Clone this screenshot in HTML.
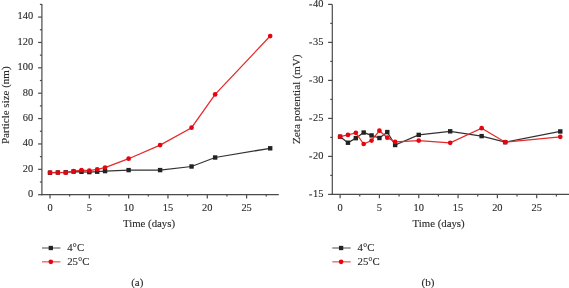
<!DOCTYPE html>
<html><head><meta charset="utf-8"><style>
html,body{margin:0;padding:0;background:#fff;}
svg{display:block;}
svg text{font-family:"Liberation Serif", serif;fill:#2a2a2a;stroke:#2a2a2a;stroke-width:0.12px;}
svg{will-change:transform;}
</style></head><body>
<svg width="569" height="288" viewBox="0 0 569 288">
<line x1="41.90" y1="3.90" x2="41.90" y2="195.20" stroke="#4a4a4a" stroke-width="1.2"/>
<line x1="41.30" y1="194.60" x2="278.80" y2="194.60" stroke="#4a4a4a" stroke-width="1.2"/>
<line x1="38.10" y1="194.70" x2="41.90" y2="194.70" stroke="#4a4a4a" stroke-width="1.2"/>
<text x="33.20" y="197.00" font-size="10.4" text-anchor="end" >0</text>
<line x1="39.90" y1="182.01" x2="41.90" y2="182.01" stroke="#4a4a4a" stroke-width="1.2"/>
<line x1="38.10" y1="169.33" x2="41.90" y2="169.33" stroke="#4a4a4a" stroke-width="1.2"/>
<text x="33.20" y="171.63" font-size="10.4" text-anchor="end" >20</text>
<line x1="39.90" y1="156.64" x2="41.90" y2="156.64" stroke="#4a4a4a" stroke-width="1.2"/>
<line x1="38.10" y1="143.95" x2="41.90" y2="143.95" stroke="#4a4a4a" stroke-width="1.2"/>
<text x="33.20" y="146.25" font-size="10.4" text-anchor="end" >40</text>
<line x1="39.90" y1="131.26" x2="41.90" y2="131.26" stroke="#4a4a4a" stroke-width="1.2"/>
<line x1="38.10" y1="118.58" x2="41.90" y2="118.58" stroke="#4a4a4a" stroke-width="1.2"/>
<text x="33.20" y="120.88" font-size="10.4" text-anchor="end" >60</text>
<line x1="39.90" y1="105.89" x2="41.90" y2="105.89" stroke="#4a4a4a" stroke-width="1.2"/>
<line x1="38.10" y1="93.20" x2="41.90" y2="93.20" stroke="#4a4a4a" stroke-width="1.2"/>
<text x="33.20" y="95.50" font-size="10.4" text-anchor="end" >80</text>
<line x1="39.90" y1="80.52" x2="41.90" y2="80.52" stroke="#4a4a4a" stroke-width="1.2"/>
<line x1="38.10" y1="67.83" x2="41.90" y2="67.83" stroke="#4a4a4a" stroke-width="1.2"/>
<text x="33.20" y="70.13" font-size="10.4" text-anchor="end" >100</text>
<line x1="39.90" y1="55.14" x2="41.90" y2="55.14" stroke="#4a4a4a" stroke-width="1.2"/>
<line x1="38.10" y1="42.46" x2="41.90" y2="42.46" stroke="#4a4a4a" stroke-width="1.2"/>
<text x="33.20" y="44.76" font-size="10.4" text-anchor="end" >120</text>
<line x1="39.90" y1="29.77" x2="41.90" y2="29.77" stroke="#4a4a4a" stroke-width="1.2"/>
<line x1="38.10" y1="17.08" x2="41.90" y2="17.08" stroke="#4a4a4a" stroke-width="1.2"/>
<text x="33.20" y="19.38" font-size="10.4" text-anchor="end" >140</text>
<line x1="39.90" y1="4.40" x2="41.90" y2="4.40" stroke="#4a4a4a" stroke-width="1.2"/>
<line x1="50.00" y1="194.60" x2="50.00" y2="198.40" stroke="#4a4a4a" stroke-width="1.2"/>
<text x="50.00" y="210.80" font-size="10.4" text-anchor="middle" >0</text>
<line x1="69.66" y1="194.60" x2="69.66" y2="196.60" stroke="#4a4a4a" stroke-width="1.2"/>
<line x1="89.32" y1="194.60" x2="89.32" y2="198.40" stroke="#4a4a4a" stroke-width="1.2"/>
<text x="89.32" y="210.80" font-size="10.4" text-anchor="middle" >5</text>
<line x1="108.98" y1="194.60" x2="108.98" y2="196.60" stroke="#4a4a4a" stroke-width="1.2"/>
<line x1="128.64" y1="194.60" x2="128.64" y2="198.40" stroke="#4a4a4a" stroke-width="1.2"/>
<text x="128.64" y="210.80" font-size="10.4" text-anchor="middle" >10</text>
<line x1="148.30" y1="194.60" x2="148.30" y2="196.60" stroke="#4a4a4a" stroke-width="1.2"/>
<line x1="167.96" y1="194.60" x2="167.96" y2="198.40" stroke="#4a4a4a" stroke-width="1.2"/>
<text x="167.96" y="210.80" font-size="10.4" text-anchor="middle" >15</text>
<line x1="187.62" y1="194.60" x2="187.62" y2="196.60" stroke="#4a4a4a" stroke-width="1.2"/>
<line x1="207.28" y1="194.60" x2="207.28" y2="198.40" stroke="#4a4a4a" stroke-width="1.2"/>
<text x="207.28" y="210.80" font-size="10.4" text-anchor="middle" >20</text>
<line x1="226.94" y1="194.60" x2="226.94" y2="196.60" stroke="#4a4a4a" stroke-width="1.2"/>
<line x1="246.60" y1="194.60" x2="246.60" y2="198.40" stroke="#4a4a4a" stroke-width="1.2"/>
<text x="246.60" y="210.80" font-size="10.4" text-anchor="middle" >25</text>
<line x1="266.26" y1="194.60" x2="266.26" y2="196.60" stroke="#4a4a4a" stroke-width="1.2"/>
<text x="149.00" y="227.00" font-size="10.8" text-anchor="middle" >Time (days)</text>
<text transform="translate(8.8,105.2) rotate(-90)" font-size="11" text-anchor="middle">Particle size (nm)</text>
<polyline points="50.00,172.70 57.86,172.50 65.73,172.30 73.59,171.60 81.46,171.80 89.32,172.10 97.18,171.70 105.05,171.10 128.64,170.10 160.10,170.10 191.55,166.50 215.14,157.50 270.19,148.30" fill="none" stroke="#333333" stroke-width="1.25"/>
<rect x="47.80" y="170.50" width="4.4" height="4.4" fill="#222222"/>
<rect x="55.66" y="170.30" width="4.4" height="4.4" fill="#222222"/>
<rect x="63.53" y="170.10" width="4.4" height="4.4" fill="#222222"/>
<rect x="71.39" y="169.40" width="4.4" height="4.4" fill="#222222"/>
<rect x="79.26" y="169.60" width="4.4" height="4.4" fill="#222222"/>
<rect x="87.12" y="169.90" width="4.4" height="4.4" fill="#222222"/>
<rect x="94.98" y="169.50" width="4.4" height="4.4" fill="#222222"/>
<rect x="102.85" y="168.90" width="4.4" height="4.4" fill="#222222"/>
<rect x="126.44" y="167.90" width="4.4" height="4.4" fill="#222222"/>
<rect x="157.90" y="167.90" width="4.4" height="4.4" fill="#222222"/>
<rect x="189.35" y="164.30" width="4.4" height="4.4" fill="#222222"/>
<rect x="212.94" y="155.30" width="4.4" height="4.4" fill="#222222"/>
<rect x="267.99" y="146.10" width="4.4" height="4.4" fill="#222222"/>
<polyline points="50.00,172.70 57.86,172.50 65.73,172.70 73.59,171.10 81.46,170.20 89.32,170.60 97.18,169.30 105.05,167.60 128.64,158.70 160.10,145.10 191.55,127.70 215.14,94.40 270.19,36.04" fill="none" stroke="#e42a2a" stroke-width="1.25"/>
<circle cx="50.00" cy="172.70" r="2.35" fill="#e3050f"/>
<circle cx="57.86" cy="172.50" r="2.35" fill="#e3050f"/>
<circle cx="65.73" cy="172.70" r="2.35" fill="#e3050f"/>
<circle cx="73.59" cy="171.10" r="2.35" fill="#e3050f"/>
<circle cx="81.46" cy="170.20" r="2.35" fill="#e3050f"/>
<circle cx="89.32" cy="170.60" r="2.35" fill="#e3050f"/>
<circle cx="97.18" cy="169.30" r="2.35" fill="#e3050f"/>
<circle cx="105.05" cy="167.60" r="2.35" fill="#e3050f"/>
<circle cx="128.64" cy="158.70" r="2.35" fill="#e3050f"/>
<circle cx="160.10" cy="145.10" r="2.35" fill="#e3050f"/>
<circle cx="191.55" cy="127.70" r="2.35" fill="#e3050f"/>
<circle cx="215.14" cy="94.40" r="2.35" fill="#e3050f"/>
<circle cx="270.19" cy="36.04" r="2.35" fill="#e3050f"/>
<line x1="332.30" y1="4.40" x2="332.30" y2="195.05" stroke="#4a4a4a" stroke-width="1.2"/>
<line x1="331.70" y1="194.45" x2="569.00" y2="194.45" stroke="#4a4a4a" stroke-width="1.2"/>
<line x1="328.10" y1="4.40" x2="332.30" y2="4.40" stroke="#4a4a4a" stroke-width="1.2"/>
<text x="323.50" y="7.30" font-size="10.4" text-anchor="end" >40</text>
<line x1="309.20" y1="4.90" x2="312.10" y2="4.90" stroke="#2a2a2a" stroke-width="1.0"/>
<line x1="330.30" y1="23.40" x2="332.30" y2="23.40" stroke="#4a4a4a" stroke-width="1.2"/>
<line x1="328.10" y1="42.40" x2="332.30" y2="42.40" stroke="#4a4a4a" stroke-width="1.2"/>
<text x="323.50" y="45.30" font-size="10.4" text-anchor="end" >35</text>
<line x1="309.20" y1="42.90" x2="312.10" y2="42.90" stroke="#2a2a2a" stroke-width="1.0"/>
<line x1="330.30" y1="61.40" x2="332.30" y2="61.40" stroke="#4a4a4a" stroke-width="1.2"/>
<line x1="328.10" y1="80.40" x2="332.30" y2="80.40" stroke="#4a4a4a" stroke-width="1.2"/>
<text x="323.50" y="83.30" font-size="10.4" text-anchor="end" >30</text>
<line x1="309.20" y1="80.90" x2="312.10" y2="80.90" stroke="#2a2a2a" stroke-width="1.0"/>
<line x1="330.30" y1="99.40" x2="332.30" y2="99.40" stroke="#4a4a4a" stroke-width="1.2"/>
<line x1="328.10" y1="118.40" x2="332.30" y2="118.40" stroke="#4a4a4a" stroke-width="1.2"/>
<text x="323.50" y="121.30" font-size="10.4" text-anchor="end" >25</text>
<line x1="309.20" y1="118.90" x2="312.10" y2="118.90" stroke="#2a2a2a" stroke-width="1.0"/>
<line x1="330.30" y1="137.40" x2="332.30" y2="137.40" stroke="#4a4a4a" stroke-width="1.2"/>
<line x1="328.10" y1="156.40" x2="332.30" y2="156.40" stroke="#4a4a4a" stroke-width="1.2"/>
<text x="323.50" y="159.30" font-size="10.4" text-anchor="end" >20</text>
<line x1="309.20" y1="156.90" x2="312.10" y2="156.90" stroke="#2a2a2a" stroke-width="1.0"/>
<line x1="330.30" y1="175.40" x2="332.30" y2="175.40" stroke="#4a4a4a" stroke-width="1.2"/>
<line x1="328.10" y1="194.40" x2="332.30" y2="194.40" stroke="#4a4a4a" stroke-width="1.2"/>
<text x="323.50" y="197.30" font-size="10.4" text-anchor="end" >15</text>
<line x1="309.20" y1="194.90" x2="312.10" y2="194.90" stroke="#2a2a2a" stroke-width="1.0"/>
<line x1="340.10" y1="194.45" x2="340.10" y2="198.25" stroke="#4a4a4a" stroke-width="1.2"/>
<text x="340.10" y="210.80" font-size="10.4" text-anchor="middle" >0</text>
<line x1="359.76" y1="194.45" x2="359.76" y2="196.45" stroke="#4a4a4a" stroke-width="1.2"/>
<line x1="379.42" y1="194.45" x2="379.42" y2="198.25" stroke="#4a4a4a" stroke-width="1.2"/>
<text x="379.42" y="210.80" font-size="10.4" text-anchor="middle" >5</text>
<line x1="399.08" y1="194.45" x2="399.08" y2="196.45" stroke="#4a4a4a" stroke-width="1.2"/>
<line x1="418.74" y1="194.45" x2="418.74" y2="198.25" stroke="#4a4a4a" stroke-width="1.2"/>
<text x="418.74" y="210.80" font-size="10.4" text-anchor="middle" >10</text>
<line x1="438.40" y1="194.45" x2="438.40" y2="196.45" stroke="#4a4a4a" stroke-width="1.2"/>
<line x1="458.06" y1="194.45" x2="458.06" y2="198.25" stroke="#4a4a4a" stroke-width="1.2"/>
<text x="458.06" y="210.80" font-size="10.4" text-anchor="middle" >15</text>
<line x1="477.72" y1="194.45" x2="477.72" y2="196.45" stroke="#4a4a4a" stroke-width="1.2"/>
<line x1="497.38" y1="194.45" x2="497.38" y2="198.25" stroke="#4a4a4a" stroke-width="1.2"/>
<text x="497.38" y="210.80" font-size="10.4" text-anchor="middle" >20</text>
<line x1="517.04" y1="194.45" x2="517.04" y2="196.45" stroke="#4a4a4a" stroke-width="1.2"/>
<line x1="536.70" y1="194.45" x2="536.70" y2="198.25" stroke="#4a4a4a" stroke-width="1.2"/>
<text x="536.70" y="210.80" font-size="10.4" text-anchor="middle" >25</text>
<line x1="556.36" y1="194.45" x2="556.36" y2="196.45" stroke="#4a4a4a" stroke-width="1.2"/>
<text x="438.60" y="227.00" font-size="10.8" text-anchor="middle" >Time (days)</text>
<text transform="translate(300.0,99.25) rotate(-90)" font-size="11.3" text-anchor="middle">Zeta potential (mV)</text>
<polyline points="340.10,136.72 347.96,142.72 355.83,138.16 363.69,132.54 371.56,135.42 379.42,138.01 387.28,132.08 395.15,145.00 418.74,134.89 450.20,131.32 481.65,136.11 505.24,142.19 560.29,131.47" fill="none" stroke="#333333" stroke-width="1.25"/>
<rect x="337.90" y="134.52" width="4.4" height="4.4" fill="#222222"/>
<rect x="345.76" y="140.52" width="4.4" height="4.4" fill="#222222"/>
<rect x="353.63" y="135.96" width="4.4" height="4.4" fill="#222222"/>
<rect x="361.49" y="130.34" width="4.4" height="4.4" fill="#222222"/>
<rect x="369.36" y="133.22" width="4.4" height="4.4" fill="#222222"/>
<rect x="377.22" y="135.81" width="4.4" height="4.4" fill="#222222"/>
<rect x="385.08" y="129.88" width="4.4" height="4.4" fill="#222222"/>
<rect x="392.95" y="142.80" width="4.4" height="4.4" fill="#222222"/>
<rect x="416.54" y="132.69" width="4.4" height="4.4" fill="#222222"/>
<rect x="448.00" y="129.12" width="4.4" height="4.4" fill="#222222"/>
<rect x="479.45" y="133.91" width="4.4" height="4.4" fill="#222222"/>
<rect x="503.04" y="139.99" width="4.4" height="4.4" fill="#222222"/>
<rect x="558.09" y="129.27" width="4.4" height="4.4" fill="#222222"/>
<polyline points="340.10,136.72 347.96,134.89 355.83,132.84 363.69,144.01 371.56,140.59 379.42,130.71 387.28,137.63 395.15,141.96 418.74,140.59 450.20,142.87 481.65,128.13 505.24,142.19 560.29,136.79" fill="none" stroke="#e42a2a" stroke-width="1.25"/>
<circle cx="340.10" cy="136.72" r="2.35" fill="#e3050f"/>
<circle cx="347.96" cy="134.89" r="2.35" fill="#e3050f"/>
<circle cx="355.83" cy="132.84" r="2.35" fill="#e3050f"/>
<circle cx="363.69" cy="144.01" r="2.35" fill="#e3050f"/>
<circle cx="371.56" cy="140.59" r="2.35" fill="#e3050f"/>
<circle cx="379.42" cy="130.71" r="2.35" fill="#e3050f"/>
<circle cx="387.28" cy="137.63" r="2.35" fill="#e3050f"/>
<circle cx="395.15" cy="141.96" r="2.35" fill="#e3050f"/>
<circle cx="418.74" cy="140.59" r="2.35" fill="#e3050f"/>
<circle cx="450.20" cy="142.87" r="2.35" fill="#e3050f"/>
<circle cx="481.65" cy="128.13" r="2.35" fill="#e3050f"/>
<circle cx="505.24" cy="142.19" r="2.35" fill="#e3050f"/>
<circle cx="560.29" cy="136.79" r="2.35" fill="#e3050f"/>
<line x1="42.00" y1="248.00" x2="60.40" y2="248.00" stroke="#888888" stroke-width="1.5"/>
<rect x="48.65" y="245.85" width="4.3" height="4.3" fill="#222222"/>
<line x1="42.00" y1="261.80" x2="60.40" y2="261.80" stroke="#f07575" stroke-width="1.5"/>
<circle cx="50.80" cy="261.80" r="2.35" fill="#e3050f"/>
<text x="67.20" y="251.20" font-size="10.8" text-anchor="start" >4°C</text>
<text x="67.20" y="265.10" font-size="10.8" text-anchor="start" >25°C</text>
<line x1="332.30" y1="248.00" x2="350.70" y2="248.00" stroke="#888888" stroke-width="1.5"/>
<rect x="338.95" y="245.85" width="4.3" height="4.3" fill="#222222"/>
<line x1="332.30" y1="261.80" x2="350.70" y2="261.80" stroke="#f07575" stroke-width="1.5"/>
<circle cx="341.10" cy="261.80" r="2.35" fill="#e3050f"/>
<text x="357.50" y="251.20" font-size="10.8" text-anchor="start" >4°C</text>
<text x="357.50" y="265.10" font-size="10.8" text-anchor="start" >25°C</text>
<text x="137.30" y="285.60" font-size="11" text-anchor="middle" >(a)</text>
<text x="428.00" y="285.60" font-size="11" text-anchor="middle" >(b)</text>
</svg>
</body></html>
